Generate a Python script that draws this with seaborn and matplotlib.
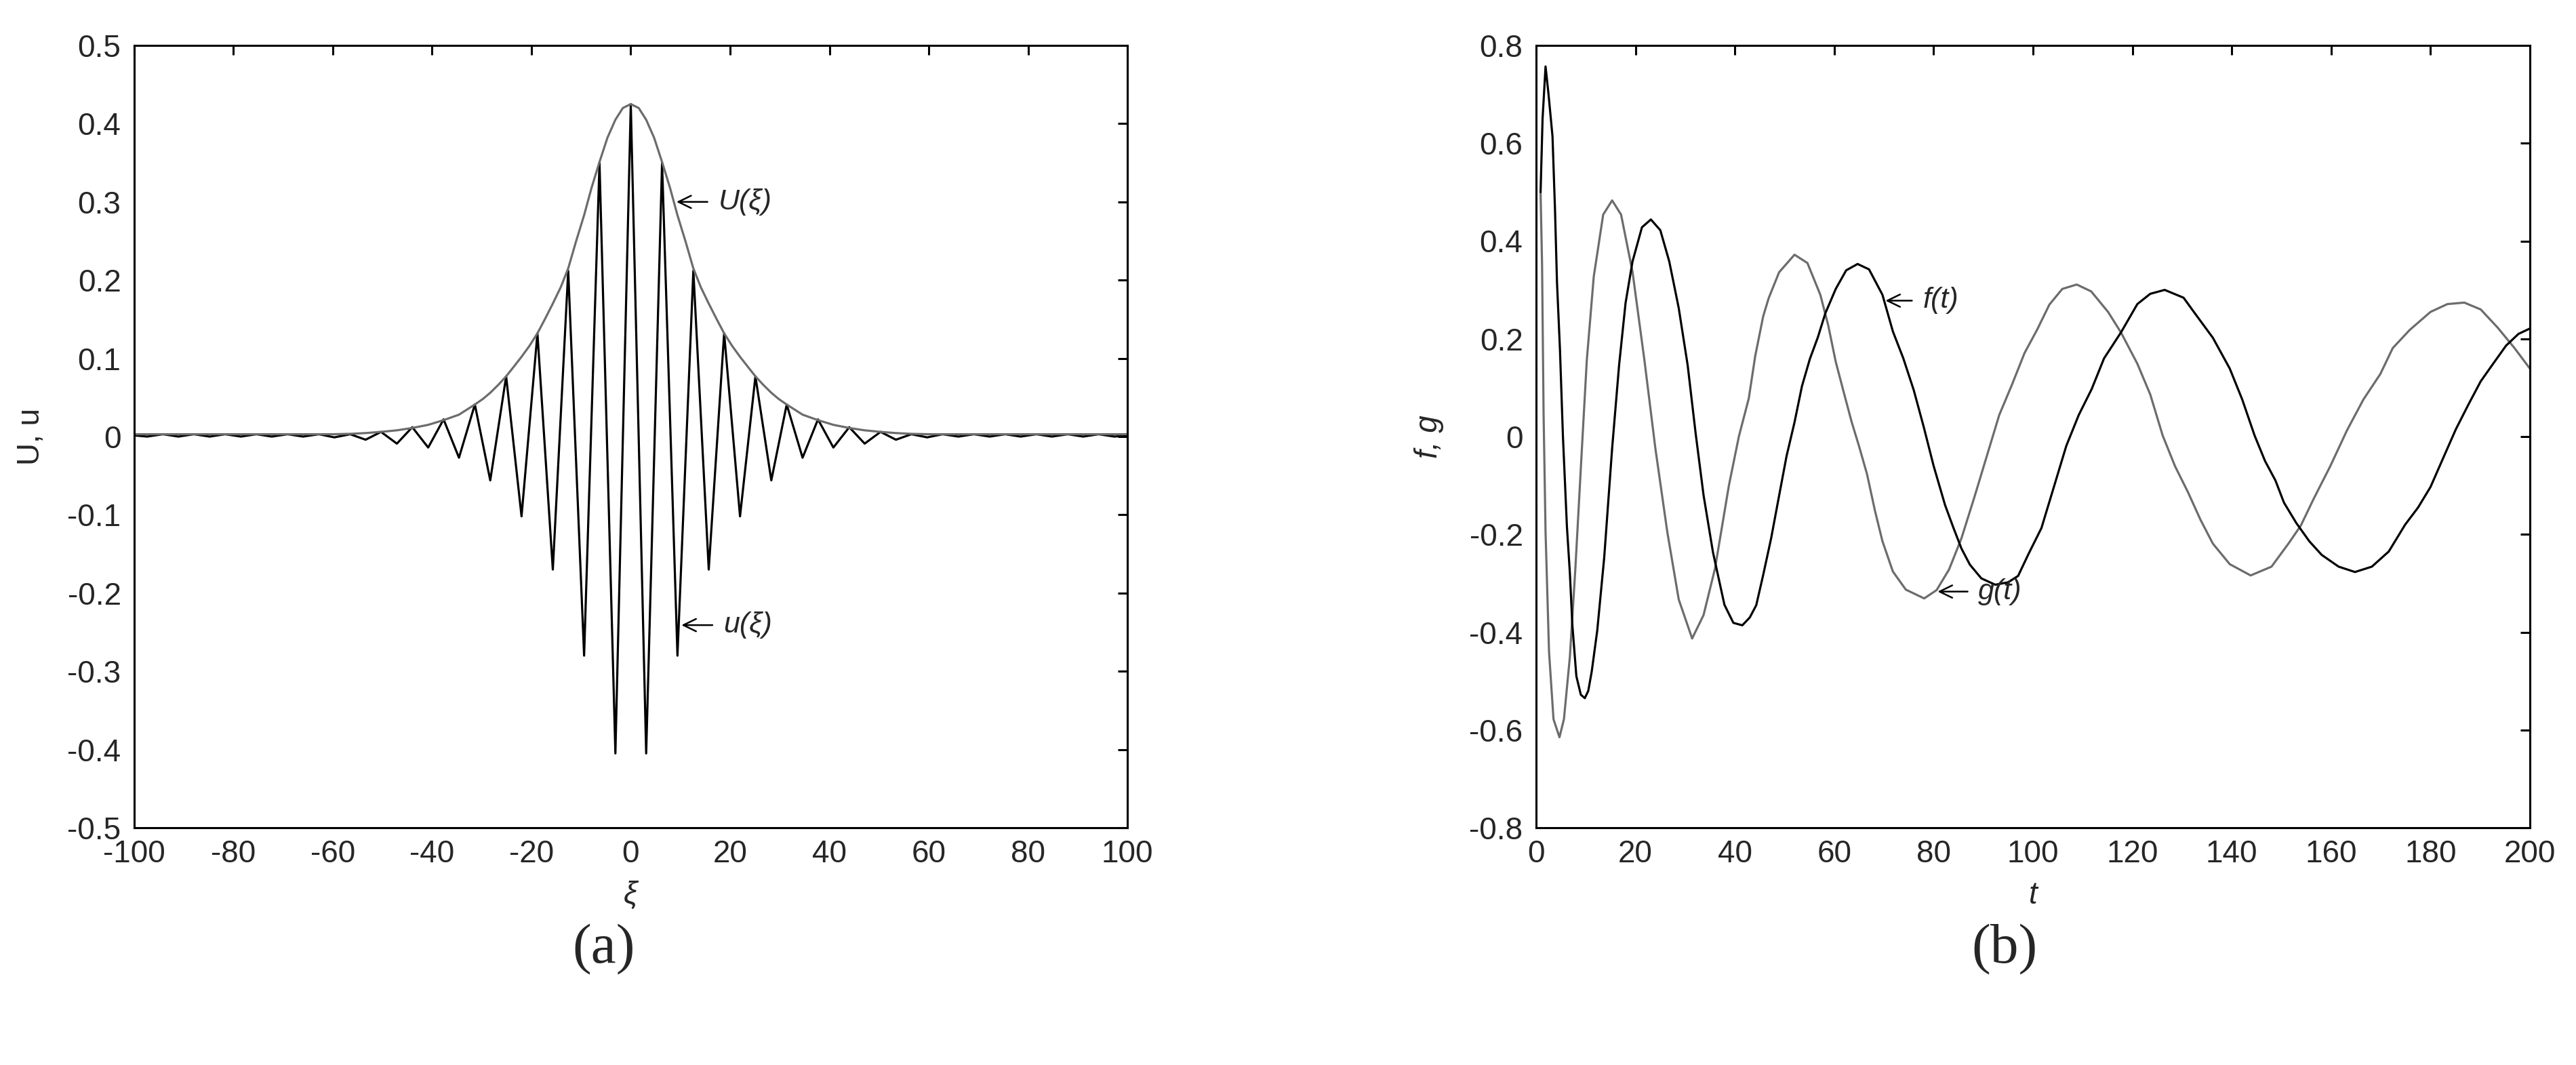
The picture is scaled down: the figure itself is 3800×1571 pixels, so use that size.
import matplotlib
matplotlib.use("Agg")
import matplotlib.pyplot as plt
import seaborn as sns

sns.set_style("white")
plt.rcParams["font.family"] = ["Liberation Sans Narrow", "Liberation Sans", "DejaVu Sans"]
plt.rcParams["axes.unicode_minus"] = False

# ---- panel (a): carrier u(xi) read at its extrema, envelope U(xi) ----
xi_u = [-100, -97.4, -94.2, -91.1, -88.0, -84.8, -81.7, -78.5, -75.4, -72.3, -69.1,
        -66.0, -62.8, -59.7, -56.5, -53.4, -50.3, -47.1, -44.0, -40.8, -37.7, -34.6,
        -31.4, -28.3, -25.1, -22.0, -18.8, -15.7, -12.6, -9.4, -6.3, -3.1, 0,
        3.1, 6.3, 9.4, 12.6, 15.7, 18.8, 22.0, 25.1, 28.3, 31.4, 34.6, 37.7, 40.8,
        44.0, 47.1, 50.3, 53.4, 56.5, 59.7, 62.8, 66.0, 69.1, 72.3, 75.4, 78.5,
        81.7, 84.8, 88.0, 91.1, 94.2, 97.4, 100]
u_vals = [0.0015, 0.0, 0.003, 0.0, 0.003, 0.0, 0.003, 0.0, 0.003, 0.0, 0.003,
          0.0, 0.003, -0.001, 0.003, -0.004, 0.006, -0.009, 0.012, -0.014, 0.022, -0.027,
          0.041, -0.056, 0.077, -0.102, 0.132, -0.170, 0.212, -0.280, 0.350, -0.405, 0.425,
          -0.405, 0.350, -0.280, 0.212, -0.170, 0.132, -0.102, 0.077, -0.056, 0.041, -0.027,
          0.022, -0.014, 0.012, -0.009, 0.006, -0.004, 0.003, -0.001, 0.003, 0.0, 0.003,
          0.0, 0.003, 0.0, 0.003, 0.0, 0.003, 0.0, 0.003, 0.0, 0.0015]

xi_env = [-100, -60, -56.5, -53.4, -50.3, -47.1, -44.0, -40.8, -37.7, -34.6, -31.4,
          -29.8, -28.3, -26.7, -25.1, -23.6, -22.0, -20.4, -18.8, -17.3, -15.7, -14.1,
          -12.6, -11.0, -9.4, -7.9, -6.3, -4.7, -3.1, -1.6, 0,
          1.6, 3.1, 4.7, 6.3, 7.9, 9.4, 11.0, 12.6, 14.1, 15.7, 17.3, 18.8, 20.4,
          22.0, 23.6, 25.1, 26.7, 28.3, 29.8, 31.4, 34.6, 37.7, 40.8, 44.0, 47.1,
          50.3, 53.4, 56.5, 60, 100]
env_vals = [0.003, 0.003, 0.0035, 0.0045, 0.006, 0.008, 0.011, 0.015, 0.021, 0.028, 0.041,
            0.048, 0.056, 0.066, 0.077, 0.089, 0.102, 0.116, 0.132, 0.150, 0.170, 0.191,
            0.215, 0.250, 0.283, 0.318, 0.351, 0.382, 0.405, 0.420, 0.425,
            0.420, 0.405, 0.382, 0.351, 0.318, 0.283, 0.250, 0.215, 0.191, 0.170, 0.150,
            0.132, 0.116, 0.102, 0.089, 0.077, 0.066, 0.056, 0.048, 0.041, 0.028, 0.021,
            0.015, 0.011, 0.008, 0.006, 0.0045, 0.0035, 0.003, 0.003]

# ---- panel (b): f(t) and g(t) ----
t_f = [0.9, 1.3, 1.9, 2.5, 3.3, 3.8, 4.2, 4.8, 5.4, 6.2, 6.8, 7.3, 8.1, 9.0, 9.8,
       10.5, 11.2, 12.3, 13.7, 15.3, 16.7, 18.0, 19.4, 21.3, 23.1, 25.0, 26.8, 28.7,
       30.5, 32.1, 33.7, 35.6, 37.9, 39.7, 41.5, 43.0, 44.3, 45.7, 47.3, 48.9, 50.4,
       52.0, 53.5, 55.1, 56.7, 58.2, 60.3, 62.4, 64.7, 67.0, 69.7, 71.8, 73.9, 76.0,
       78.0, 80.0, 82.3, 84.0, 85.6, 87.3, 89.6, 92.4, 95.0, 97.0, 99.1, 101.7, 104.2,
       106.7, 109.2, 111.8, 114.3, 117.7, 121.0, 123.6, 126.5, 130.3, 132.8, 136.2,
       139.6, 142.1, 144.6, 146.7, 148.8, 150.5, 153.0, 155.6, 158.1, 161.5, 164.8,
       168.2, 171.6, 174.9, 177.5, 180.0, 182.5, 185.1, 187.6, 190.1, 192.6, 195.2,
       197.7, 200.0]
f_vals = [0.50, 0.65, 0.757, 0.70, 0.614, 0.465, 0.316, 0.178, 0.0, -0.184, -0.28,
          -0.386, -0.49, -0.528, -0.535, -0.52, -0.48, -0.397, -0.248, -0.024, 0.146,
          0.273, 0.358, 0.428, 0.444, 0.422, 0.358, 0.263, 0.146, 0.007, -0.12, -0.237,
          -0.344, -0.381, -0.386, -0.37, -0.345, -0.283, -0.208, -0.121, -0.04, 0.029,
          0.103, 0.159, 0.203, 0.252, 0.302, 0.340, 0.353, 0.342, 0.29, 0.215, 0.16,
          0.095, 0.02, -0.06, -0.14, -0.187, -0.229, -0.262, -0.29, -0.303, -0.298,
          -0.285, -0.24, -0.187, -0.103, -0.019, 0.044, 0.097, 0.16, 0.213, 0.271,
          0.292, 0.300, 0.284, 0.249, 0.202, 0.139, 0.076, 0.002, -0.05, -0.09, -0.135,
          -0.177, -0.214, -0.242, -0.266, -0.277, -0.266, -0.235, -0.18, -0.145, -0.103,
          -0.045, 0.015, 0.065, 0.113, 0.149, 0.186, 0.210, 0.221]

t_g = [0.9, 1.2, 1.5, 1.9, 2.6, 3.5, 4.7, 5.6, 6.8, 7.9, 9.1, 10.2, 11.6, 13.5, 15.3,
       17.1, 19.4, 21.8, 24.0, 26.4, 28.7, 31.4, 33.7, 36.0, 38.8, 40.8, 42.8, 44.1,
       45.7, 46.8, 48.9, 52.0, 54.6, 57.2, 58.8, 60.3, 61.9, 63.5, 65.0, 66.6, 68.2,
       69.7, 71.8, 74.4, 78.1, 80.6, 83.1, 85.6, 88.2, 90.7, 93.2, 95.8, 98.3, 100.8,
       103.3, 105.9, 108.8, 111.7, 115.1, 117.7, 121.0, 123.6, 126.1, 128.6, 131.2,
       133.7, 136.2, 139.6, 143.8, 148.0, 151.4, 153.9, 156.4, 159.8, 163.2, 166.5,
       169.9, 172.4, 175.8, 180.0, 183.4, 186.8, 190.1, 193.5, 196.9, 200.0]
g_vals = [0.50, 0.35, 0.05, -0.195, -0.44, -0.578, -0.615, -0.578, -0.45, -0.27,
          -0.046, 0.156, 0.327, 0.454, 0.483, 0.454, 0.337, 0.156, -0.024, -0.195,
          -0.333, -0.413, -0.365, -0.27, -0.1, 0.0, 0.078, 0.165, 0.246, 0.283, 0.336,
          0.372, 0.355, 0.29, 0.227, 0.153, 0.091, 0.03, -0.02, -0.077, -0.152, -0.214,
          -0.276, -0.313, -0.331, -0.314, -0.272, -0.208, -0.124, -0.04, 0.044, 0.107,
          0.171, 0.218, 0.270, 0.302, 0.311, 0.297, 0.255, 0.213, 0.149, 0.086, 0.002,
          -0.061, -0.114, -0.17, -0.219, -0.261, -0.284, -0.266, -0.219, -0.182, -0.129,
          -0.061, 0.013, 0.076, 0.128, 0.181, 0.218, 0.255, 0.271, 0.274, 0.26, 0.223,
          0.181, 0.139]

xticks_a = [-100, -80, -60, -40, -20, 0, 20, 40, 60, 80, 100]
yticks_a = [-0.5, -0.4, -0.3, -0.2, -0.1, 0, 0.1, 0.2, 0.3, 0.4, 0.5]
ylabels_a = ["-0.5", "-0.4", "-0.3", "-0.2", "-0.1", "0", "0.1", "0.2", "0.3", "0.4", "0.5"]
xticks_b = [0, 20, 40, 60, 80, 100, 120, 140, 160, 180, 200]
yticks_b = [-0.8, -0.6, -0.4, -0.2, 0, 0.2, 0.4, 0.6, 0.8]
ylabels_b = ["-0.8", "-0.6", "-0.4", "-0.2", "0", "0.2", "0.4", "0.6", "0.8"]

GRAY = "#6c6c6c"
TICK_FS = 33

fig = plt.figure(figsize=(38, 15.71), dpi=100)
ax1 = fig.add_axes([198 / 3800, 1 - 1221 / 1571, 1465 / 3800, 1154 / 1571])
ax2 = fig.add_axes([2266 / 3800, 1 - 1221 / 1571, 1466 / 3800, 1154 / 1571])

sns.lineplot(x=xi_u, y=u_vals, ax=ax1, color="black", lw=2.3, sort=False, estimator=None)
sns.lineplot(x=xi_env, y=env_vals, ax=ax1, color=GRAY, lw=2.3, sort=False, estimator=None)

sns.lineplot(x=t_g, y=g_vals, ax=ax2, color=GRAY, lw=2.3, sort=False, estimator=None)
sns.lineplot(x=t_f, y=f_vals, ax=ax2, color="black", lw=2.3, sort=False, estimator=None)


def style_axes(ax, xticks, yticks, ylabels, xlim, ylim):
    ax.set_xlim(*xlim)
    ax.set_ylim(*ylim)
    ax.set_xticks(xticks)
    ax.set_xticklabels([str(v) for v in xticks])
    ax.set_yticks(yticks)
    ax.set_yticklabels(ylabels)
    ax.tick_params(direction="in", length=10, width=2.2, top=True, right=True,
                   labelsize=TICK_FS, color="black")
    ax.tick_params(axis="x", pad=12)
    ax.tick_params(axis="y", pad=14)
    for sp in ax.spines.values():
        sp.set_visible(True)
        sp.set_color("black")
        sp.set_linewidth(2.2)


style_axes(ax1, xticks_a, yticks_a, ylabels_a, (-100, 100), (-0.5, 0.5))
style_axes(ax2, xticks_b, yticks_b, ylabels_b, (0, 200), (-0.8, 0.8))

ax1.set_ylabel("U, u", fontsize=TICK_FS, va="center")
ax1.yaxis.set_label_coords(-0.104, 0.5)
ax1.set_xlabel("ξ", fontsize=TICK_FS, style="italic", va="center")
ax1.xaxis.set_label_coords(0.5, -0.087)

ax2.set_ylabel("f, g", fontsize=TICK_FS, style="italic", va="center")
ax2.yaxis.set_label_coords(-0.108, 0.5)
ax2.set_xlabel("t", fontsize=TICK_FS, style="italic", va="center")
ax2.xaxis.set_label_coords(0.5, -0.087)

arrow = dict(arrowstyle="->,head_length=0.45,head_width=0.22", color="black",
             lw=1.8, shrinkA=9, shrinkB=0, mutation_scale=30)
ann_kw = dict(fontsize=31, style="italic", ha="left", va="center", arrowprops=arrow)
ax1.annotate("U(ξ)", xy=(9.2, 0.300), xytext=(17.6, 0.300), **ann_kw)
ax1.annotate("u(ξ)", xy=(10.2, -0.241), xytext=(18.6, -0.241), **ann_kw)
ax2.annotate("f(t)", xy=(70.3, 0.278), xytext=(77.8, 0.278), **ann_kw)
ax2.annotate("g(t)", xy=(80.8, -0.317), xytext=(89.0, -0.317), **ann_kw)

fig.text(891 / 3800, 1 - 1401 / 1571, "(a)", fontsize=60, ha="center", va="center",
         family=["Liberation Serif", "DejaVu Serif"])
fig.text(2957 / 3800, 1 - 1401 / 1571, "(b)", fontsize=60, ha="center", va="center",
         family=["Liberation Serif", "DejaVu Serif"])

fig.savefig("out.png", dpi=100)
